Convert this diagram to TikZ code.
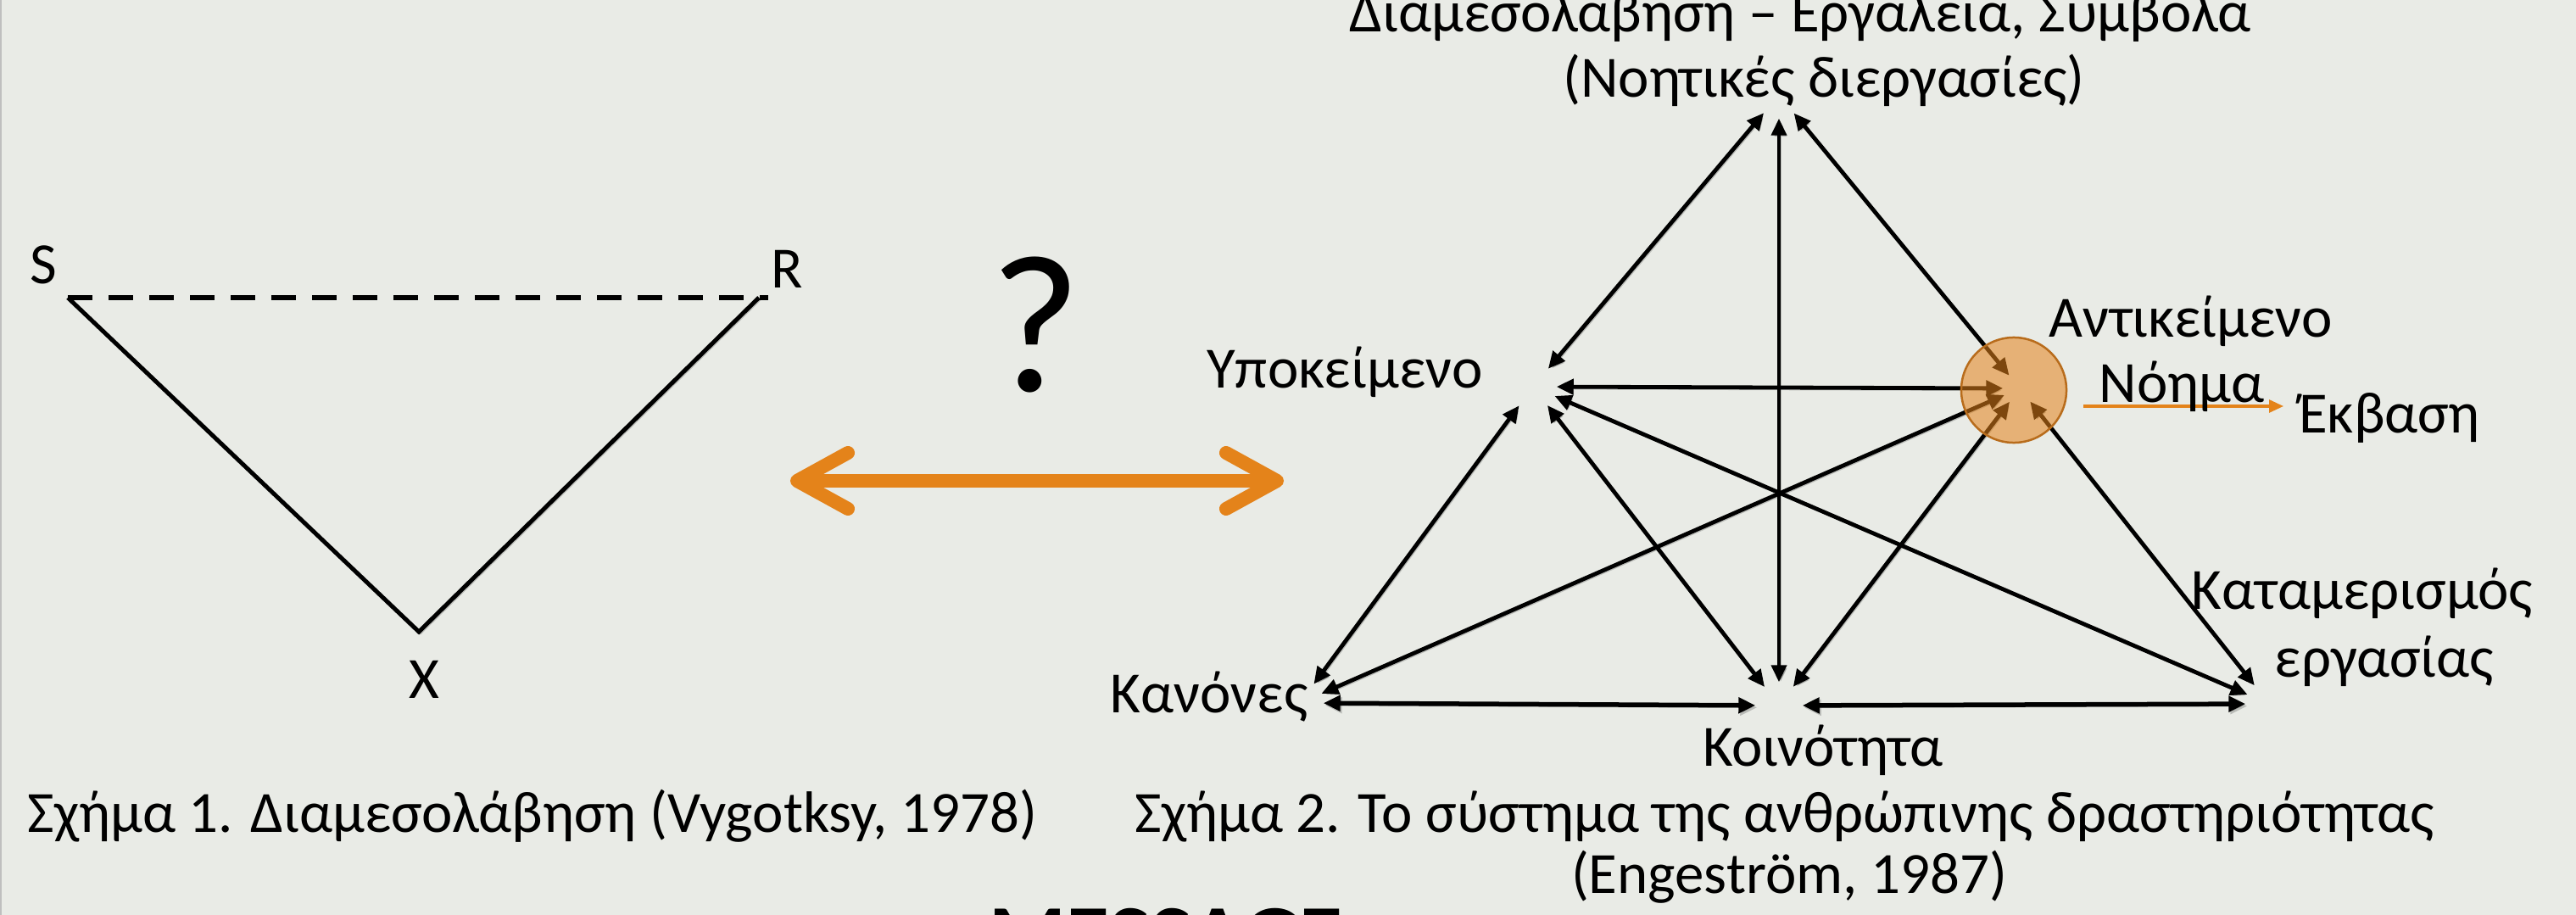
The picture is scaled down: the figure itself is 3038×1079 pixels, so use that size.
\documentclass[tikz,border=0pt]{standalone}
\usepackage{fontspec}
\setmainfont{Carlito}
\usetikzlibrary{arrows.meta}
\definecolor{bg}{RGB}{233,235,230}
\definecolor{org}{RGB}{228,131,26}
\definecolor{orgdark}{RGB}{184,108,28}
\newcommand\lblfont{\fontsize{19.6}{23}\selectfont}
\begin{document}
\begin{tikzpicture}[x=0.01cm,y=-0.01cm,
  lab/.style={font=\lblfont, anchor=base, inner sep=0pt},
  vtx/.style={circle, draw=none, inner sep=0pt, minimum size=0.54cm},
  conn/.style={line width=0.048cm, black, <->, >={Triangle[length=0.2cm,width=0.18cm]},
     preaction={draw=black, opacity=0.2, transform canvas={shift={(0.02cm,-0.025cm)}}}},
  tri/.style={line width=0.05cm, black}]
\useasboundingbox (0,0) rectangle (3038,1079);
\fill[bg] (0,0) rectangle (3038,1079);
\draw[black!25, line width=0.02cm] (1,0) -- (1,1079);

% ---------- left triangle ----------
\coordinate (s) at (80,351);
\coordinate (r) at (895,351);
\coordinate (x) at (494,745);
\coordinate (rend) at (906,351);
\draw[tri, line width=0.06cm, dash pattern=on 0.29cm off 0.19cm] (s) -- (rend);
\draw[tri, line join=miter, preaction={draw=black, opacity=0.2, transform canvas={shift={(0.02cm,-0.025cm)}}}] (s) -- (x) -- (r);
\node[lab] (sl) at (51,335) {S};
\node[lab] (rl) at (928,340) {R};
\node[lab] (xl) at (500,823) {X};

% ---------- question mark and orange arrow ----------
\node[font=\fontsize{66}{70}\selectfont, anchor=base, inner sep=0pt] (q) at (1221,462) {?};
\coordinate (la) at (932,567);
\coordinate (ra) at (1514,567);
\draw[org, line width=0.16cm, line cap=round,
  {Straight Barb[length=0.6cm,width=0.66cm,line cap=round,line join=round]}-{Straight Barb[length=0.6cm,width=0.66cm,line cap=round,line join=round]}] (la) -- (ra);

% ---------- activity system vertices ----------
\node[vtx] (top) at (2098,112) {};
\node[vtx] (subj) at (1808,456) {};
\node[vtx, minimum size=0.38cm] (obj) at (2382,458) {};
\node[vtx] (rules) at (1533,829) {};
\node[vtx] (comm) at (2098,832) {};
\node[vtx] (div) at (2676,830) {};

\draw[conn] (top) -- (subj);
\draw[conn, line width=0.04cm] (top) -- (comm);
\draw[conn] (top) -- (obj);
\draw[conn] (subj) -- (obj);
\draw[conn] (subj) -- (rules);
\draw[conn] (subj) -- (comm);
\draw[conn] (subj) -- (div);
\draw[conn] (obj) -- (rules);
\draw[conn] (obj) -- (comm);
\draw[conn] (obj) -- (div);
\draw[conn, line width=0.055cm] (rules) -- (comm);
\draw[conn, line width=0.055cm] (comm) -- (div);

% object circle
\node[circle, minimum size=1.24cm, inner sep=0pt, fill=org, fill opacity=0.55, draw=orgdark, line width=0.025cm] (objc) at (2375,460) {};

% outcome arrow
\coordinate (oa) at (2457,479);
\coordinate (ob) at (2693,479);
\draw[org, line width=0.03cm, -{Triangle[length=0.17cm,width=0.15cm]}] (oa) -- (ob);

% ---------- labels ----------
\node[lab] (t1) at (2123,38) {Διαμεσολάβηση – Εργαλεία, Σύμβολα};
\node[lab] (t2) at (2151,115) {(Νοητικές διεργασίες)};
\node[lab] (subjl) at (1586,457) {Υποκείμενο};
\node[lab] (objl) at (2584,398) {Αντικείμενο};
\node[lab] (noem) at (2573,475) {Νόημα};
\node[lab] (outc) at (2818,510) {Έκβαση};
\node[lab] (divl1) at (2786,718) {Καταμερισμός};
\node[lab] (divl2) at (2812,798) {εργασίας};
\node[lab] (rulesl) at (1426,840) {Κανόνες};
\node[lab] (comml) at (2150,903) {Κοινότητα};

\node[lab] (cap1) at (628,981) {Σχήμα 1. Διαμεσολάβηση (Vygotksy, 1978)};
\node[lab] (cap2) at (2105,981) {Σχήμα 2. Το σύστημα της ανθρώπινης δραστηριότητας};
\node[lab] (cap3) at (2110,1053) {(Engeström, 1987)};

\begin{scope}
\clip (0,0) rectangle (3038,1079);
\node[font=\fontsize{29.6}{32}\selectfont\bfseries, anchor=base, inner sep=0pt] (msg) at (1375,1139) {MESSAGE};
\end{scope}
\end{tikzpicture}
\end{document}
